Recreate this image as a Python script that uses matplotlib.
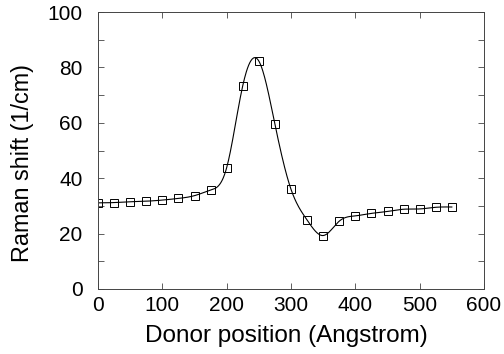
import numpy as np
import matplotlib.pyplot as plt
from matplotlib.ticker import MultipleLocator

plt.rcParams['font.family'] = ['Liberation Sans', 'DejaVu Sans']

# donor position (Angstrom) and Raman shift (1/cm)
position = [0, 25, 50, 75, 100, 125, 150, 175, 200, 225, 250, 275,
            300, 325, 350, 375, 400, 425, 450, 475, 500, 525, 550]
shift = [31.1, 31.2, 31.5, 31.7, 32.1, 32.7, 33.7, 35.7, 43.8, 73.4, 82.3, 59.5,
         36.0, 24.9, 19.3, 24.5, 26.4, 27.3, 28.0, 28.8, 28.9, 29.5, 29.6]


def natural_spline(x, y, xs):
    # plain natural cubic spline, only for the smooth line through the points
    x = np.asarray(x, float)
    y = np.asarray(y, float)
    n = len(x)
    h = np.diff(x)
    A = np.zeros((n, n))
    b = np.zeros(n)
    A[0, 0] = A[-1, -1] = 1
    for i in range(1, n - 1):
        A[i, i - 1] = h[i - 1]
        A[i, i] = 2 * (h[i - 1] + h[i])
        A[i, i + 1] = h[i]
        b[i] = 6 * ((y[i + 1] - y[i]) / h[i] - (y[i] - y[i - 1]) / h[i - 1])
    M = np.linalg.solve(A, b)
    idx = np.clip(np.searchsorted(x, xs) - 1, 0, n - 2)
    x0, x1 = x[idx], x[idx + 1]
    hh = x1 - x0
    t0 = x1 - xs
    t1 = xs - x0
    return (M[idx] * t0 ** 3 / (6 * hh) + M[idx + 1] * t1 ** 3 / (6 * hh)
            + (y[idx] / hh - M[idx] * hh / 6) * t0
            + (y[idx + 1] / hh - M[idx + 1] * hh / 6) * t1)


xs = np.linspace(position[0], position[-1], 600)
ys = natural_spline(position, shift, xs)

fig = plt.figure(figsize=(5.04, 3.54), dpi=100)
ax = fig.add_axes([98 / 504, 1 - 289 / 354, 386 / 504, 277 / 354])

ax.plot(xs, ys, color='black', lw=0.8)
ax.plot(position, shift, ls='none', marker='s', ms=6, mfc='none',
        mec='black', mew=0.7)

ax.set_xlim(0, 600)
ax.set_ylim(0, 100)
ax.xaxis.set_major_locator(MultipleLocator(100))
ax.yaxis.set_major_locator(MultipleLocator(20))
ax.yaxis.set_minor_locator(MultipleLocator(10))
ax.tick_params(which='both', direction='in', top=True, right=True,
               labelsize=15, width=0.6, color='#444444')
ax.tick_params(which='major', length=4)
ax.tick_params(which='minor', length=4)
ax.tick_params(axis='x', pad=5)
ax.tick_params(axis='y', pad=11)
for s in ax.spines.values():
    s.set_linewidth(0.7)
    s.set_color('#444444')

ax.set_xlabel('Donor position (Angstrom)', fontsize=17.5, labelpad=7)
ax.set_ylabel('Raman shift (1/cm)', fontsize=16.8, labelpad=10)
ax.xaxis.label.set_x(0.487)
ax.yaxis.label.set_y(0.455)

fig.savefig('out.png', dpi=100)
